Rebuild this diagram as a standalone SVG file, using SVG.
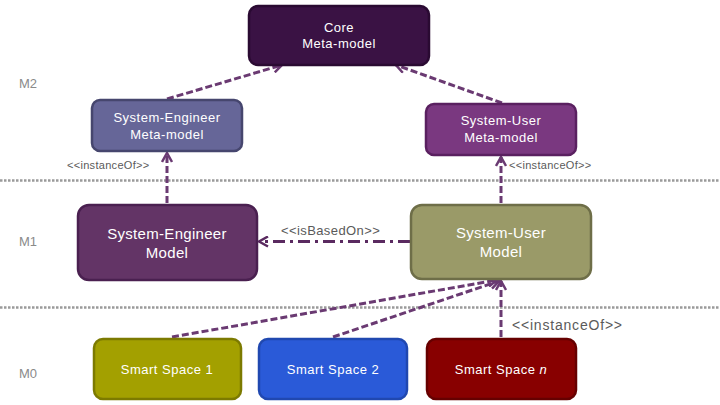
<svg xmlns="http://www.w3.org/2000/svg" width="720" height="405" viewBox="0 0 720 405">
<defs>
<style>
.lvl{font-family:"Liberation Sans",Arial,sans-serif;font-size:13px;fill:#8a8a8a;}
.nt{font-family:"Liberation Sans",Arial,sans-serif;fill:#ffffff;text-anchor:middle;}
.lbl{font-family:"Liberation Sans",Arial,sans-serif;fill:#5a5a5a;}
.sep{stroke:#9a9a9a;stroke-width:2.5;stroke-dasharray:2.5 1.5;fill:none;}
.dep{stroke:#6a3a72;stroke-width:3;stroke-dasharray:7 3;fill:none;}
.node{stroke-width:2.5;}
</style>
<marker id="ah" viewBox="0 0 12 12" refX="10" refY="6" markerWidth="12" markerHeight="12" markerUnits="userSpaceOnUse" orient="auto">
<path d="M1,1 L10,6 L1,11" fill="none" stroke="#6a3a72" stroke-width="2.5"/>
</marker>
<marker id="ah2" viewBox="0 0 12 12" refX="10" refY="6" markerWidth="12" markerHeight="12" markerUnits="userSpaceOnUse" orient="auto">
<path d="M1,1 L10,6 L1,11" fill="none" stroke="#5a2a60" stroke-width="2.5"/>
</marker>
</defs>
<rect width="720" height="405" fill="#ffffff"/>

<g id="levels">
<text class="lvl" x="19" y="88">M2</text>
<text class="lvl" x="19" y="246">M1</text>
<text class="lvl" x="19" y="378">M0</text>
<line class="sep" x1="0" y1="180.5" x2="720" y2="180.5"/>
<line class="sep" x1="0" y1="307.5" x2="720" y2="307.5"/>
</g>

<g id="connectors">
<line class="dep" x1="167" y1="99" x2="282" y2="65" marker-end="url(#ah)"/>
<line class="dep" x1="502" y1="103" x2="396" y2="65" marker-end="url(#ah)"/>
<line class="dep" x1="167" y1="203" x2="167" y2="153" marker-end="url(#ah)"/>
<line class="dep" x1="501" y1="203" x2="501" y2="157" marker-end="url(#ah)"/>
<line x1="410" y1="241.5" x2="259" y2="241.5" stroke="#5a2a60" stroke-width="3" stroke-dasharray="12 5 3 5" fill="none" marker-end="url(#ah2)"/>
<line class="dep" x1="172" y1="337" x2="497" y2="280" marker-end="url(#ah)"/>
<line class="dep" x1="333" y1="337" x2="499" y2="281" marker-end="url(#ah)"/>
<line class="dep" x1="501" y1="337" x2="501" y2="281" marker-end="url(#ah)"/>
<text class="lbl" x="67" y="169" font-size="11" letter-spacing="0.3">&lt;&lt;instanceOf&gt;&gt;</text>
<text class="lbl" x="509" y="169" font-size="11" letter-spacing="0.3">&lt;&lt;instanceOf&gt;&gt;</text>
<text class="lbl" x="281" y="235" font-size="13" letter-spacing="0.4">&lt;&lt;isBasedOn&gt;&gt;</text>
<text class="lbl" x="512" y="330" font-size="14" letter-spacing="0.8">&lt;&lt;instanceOf&gt;&gt;</text>
</g>

<g id="core">
<rect class="node" x="249" y="6" width="180" height="59" rx="9" fill="#3a1244" stroke="#2a0a32"/>
<text class="nt" x="339" y="32" font-size="13" letter-spacing="0.5">Core</text>
<text class="nt" x="339" y="48" font-size="13" letter-spacing="0.5">Meta-model</text>
</g>

<g id="se-meta">
<rect class="node" x="92" y="100" width="150" height="51" rx="8" fill="#666698" stroke="#46466e"/>
<text class="nt" x="167" y="122" font-size="13" letter-spacing="0.5">System-Engineer</text>
<text class="nt" x="167" y="139" font-size="13" letter-spacing="0.5">Meta-model</text>
</g>

<g id="su-meta">
<rect class="node" x="426" y="104" width="150" height="51" rx="8" fill="#7a3880" stroke="#5a2060"/>
<text class="nt" x="501" y="125" font-size="13" letter-spacing="0.5">System-User</text>
<text class="nt" x="501" y="142" font-size="13" letter-spacing="0.5">Meta-model</text>
</g>

<g id="se-model">
<rect class="node" x="78" y="205" width="179" height="75" rx="11" fill="#633466" stroke="#4a2050"/>
<text class="nt" x="167" y="239" font-size="15" letter-spacing="0.3">System-Engineer</text>
<text class="nt" x="167" y="258" font-size="15" letter-spacing="0.3">Model</text>
</g>

<g id="su-model">
<rect class="node" x="411" y="205" width="180" height="74" rx="11" fill="#9a9a68" stroke="#6e6e48"/>
<text class="nt" x="501" y="238" font-size="15" letter-spacing="0.3">System-User</text>
<text class="nt" x="501" y="257" font-size="15" letter-spacing="0.3">Model</text>
</g>

<g id="ss1">
<rect class="node" x="94" y="339" width="147" height="60" rx="9" fill="#a3a000" stroke="#7c7a00"/>
<text class="nt" x="167" y="374" font-size="13" letter-spacing="0.5">Smart Space 1</text>
</g>

<g id="ss2">
<rect class="node" x="259" y="339" width="148" height="60" rx="9" fill="#2a5ad8" stroke="#2048b0"/>
<text class="nt" x="333" y="374" font-size="13" letter-spacing="0.5">Smart Space 2</text>
</g>

<g id="ssn">
<rect class="node" x="427" y="339" width="149" height="60" rx="9" fill="#880000" stroke="#660000"/>
<text class="nt" x="501" y="374" font-size="13" letter-spacing="0.5">Smart Space <tspan font-style="italic">n</tspan></text>
</g>
</svg>
